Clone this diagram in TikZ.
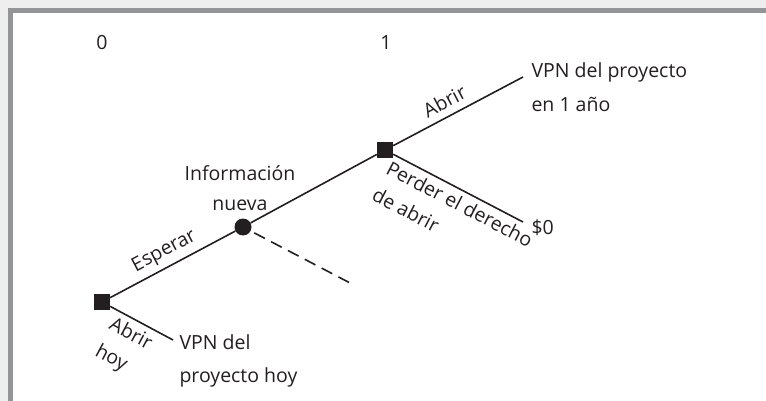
\documentclass[tikz,border=0pt]{standalone}
\usepackage{fontspec}
\setmainfont{Open Sans}
\definecolor{ink}{HTML}{231F20}
\definecolor{framegray}{HTML}{939598}
\definecolor{outergray}{HTML}{EEEEEE}
\begin{document}
\begin{tikzpicture}[x=1pt,y=-1pt,
  every node/.style={text=ink,font=\fontsize{19.5}{29}\selectfont},
  sq/.style={rectangle,fill=ink,minimum size=16pt,inner sep=0pt},
  dot/.style={circle,fill=ink,minimum size=17pt,inner sep=0pt},
  branch/.style={draw=ink,line width=1.6pt},
  futur/.style={draw=ink,line width=1.6pt,dash pattern=on 12pt off 7pt},
  lbl/.style={inner sep=5pt,align=left}]
\useasboundingbox (0,0) rectangle (766,401);
\fill[outergray] (0,0) rectangle (766,401);
\fill[framegray] (7.5,8.5) rectangle (766,401);
\fill[white] (12.5,13.5) rectangle (766,401);
% time labels
\node (t0) at (102,43) {0};
\node (t1) at (386,43) {1};
% decision and chance nodes
\node[sq] (A) at (102,302) {};
\node[dot] (B) at (243,227) {};
\node[sq] (C) at (385,150) {};
\coordinate (e1) at (523,77);
\coordinate (e2) at (523,222);
\coordinate (e3) at (173,340);
\coordinate (d) at (352,284);
% branches
\draw[branch] (A) -- node[pos=0.49,above,sloped,lbl] {Esperar} (B);
\draw[branch] (B) -- (C);
\draw[branch] (C) -- node[pos=0.45,above,sloped,lbl,inner sep=7pt] {Abrir} (e1);
\draw[branch] (C) -- node[pos=0.56,below,sloped,lbl] {Perder el derecho\\[1pt]de abrir} (e2);
\draw[branch] (A) -- node[pos=0.44,below,sloped,lbl] {Abrir\\[1pt]hoy} (e3);
\draw[futur,shorten <=4pt] (B) -- (d);
% outcome texts
\node[anchor=west,align=left] (o1) at (528,87) {VPN del proyecto\\[5pt]en 1 año};
\node[anchor=west] (o2) at (528,228) {\$0};
\node[anchor=west,align=left] (o3) at (176,361) {VPN del\\[4pt]proyecto hoy};
\node[align=center] (info) at (240,188) {Información\\[1pt]nueva};
\end{tikzpicture}
\end{document}
